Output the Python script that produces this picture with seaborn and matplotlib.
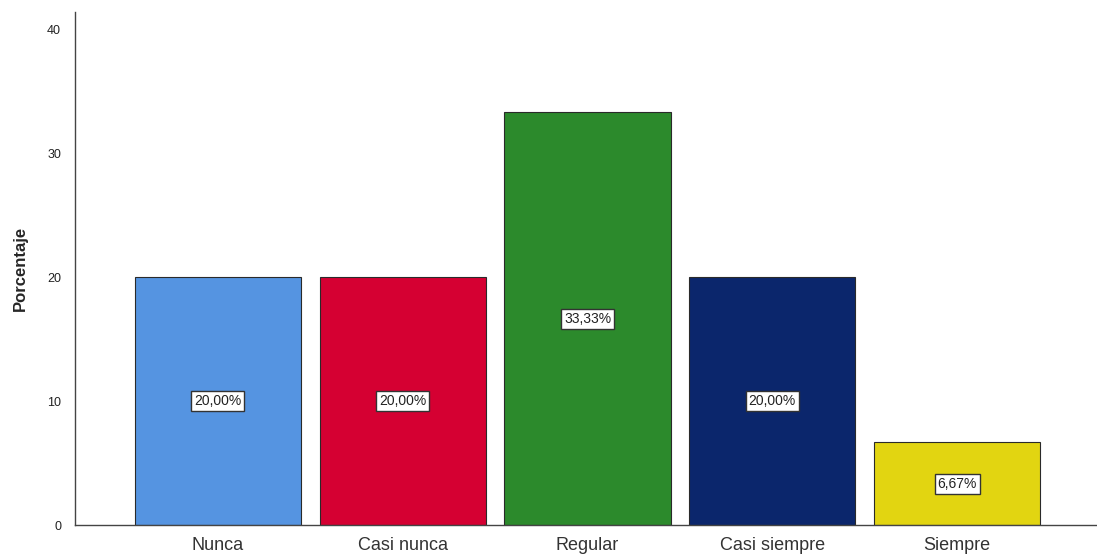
import matplotlib
matplotlib.use("Agg")
import matplotlib.pyplot as plt
import seaborn as sns
import pandas as pd

categories = ["Nunca", "Casi nunca", "Regular", "Casi siempre", "Siempre"]
percentages = [20.00, 20.00, 33.33, 20.00, 6.67]
bar_colors = ["#5594E1", "#D50032", "#2C8A2C", "#0B266C", "#E2D511"]
y_ticks = [0, 10, 20, 30, 40]

sns.set_theme(style="white")
plt.rcParams["font.family"] = ["Liberation Sans", "DejaVu Sans"]

df = pd.DataFrame({"cat": categories, "pct": percentages})

fig = plt.figure(figsize=(10.97, 5.58), dpi=100)
ax = fig.add_axes([75 / 1097, 33 / 558, 1 - 75 / 1097, (525 - 12) / 558])

sns.barplot(data=df, x="cat", y="pct", hue="cat", palette=bar_colors,
            width=0.9, edgecolor="#2a2a2a", linewidth=0.8, legend=False, ax=ax,
            saturation=1)

for i, v in enumerate(percentages):
    ax.text(i, v / 2, f"{v:.2f}%".replace(".", ","), ha="center", va="center",
            fontsize=10, color="#222222",
            bbox=dict(boxstyle="square,pad=0.2", facecolor="white",
                      edgecolor="#333333", linewidth=1.0))

ax.set_xlim(-0.773, 4.757)
ax.set_ylim(0, 41.45)
ax.set_yticks(y_ticks)
ax.tick_params(axis="y", labelsize=9, length=0, pad=10, labelcolor="#222222")
ax.tick_params(axis="x", labelsize=13, length=0, pad=9, labelcolor="#333333")
ax.set_xlabel("")
ax.set_ylabel("Porcentaje", fontsize=12, fontweight="bold", labelpad=14)

for side in ["top", "right"]:
    ax.spines[side].set_visible(False)
for side in ["left", "bottom"]:
    ax.spines[side].set_color("#444444")
    ax.spines[side].set_linewidth(1.0)

fig.savefig("out.png", dpi=100)
